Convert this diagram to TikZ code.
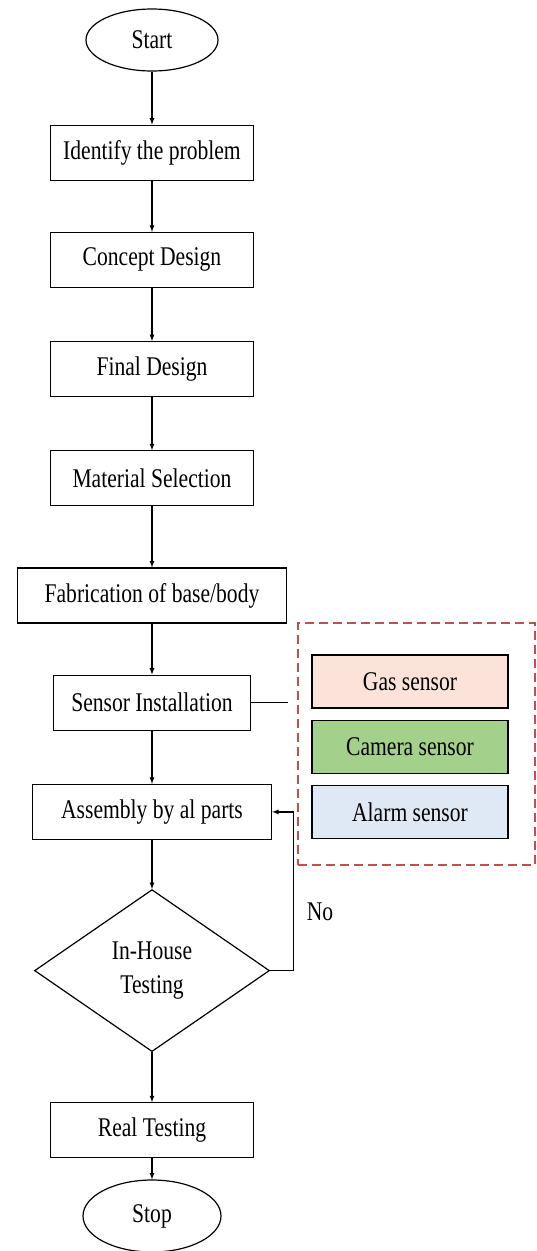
\documentclass[tikz,border=0pt]{standalone}
\usepackage{fontspec}
\setmainfont[FakeStretch=0.8]{Liberation Serif}
\usetikzlibrary{shapes,arrows,positioning}
\definecolor{gasfill}{HTML}{FBE3D9}
\definecolor{camfill}{HTML}{A3D18C}
\definecolor{alarmfill}{HTML}{DFE8F5}
\definecolor{groupred}{HTML}{C0504D}
\tikzset{%
  block/.style     = {draw, rectangle, minimum height = 55pt,
    minimum width = 203pt, inner sep = 2pt},
  term/.style      = {draw, ellipse, minimum width = 132pt,
    minimum height = 62pt}, % Start / Stop
  decision/.style  = {draw, diamond, minimum width = 235pt,
    minimum height = 162pt, inner sep = 0pt, align = center},
  sensorbox/.style = {draw, rectangle, minimum height = 53pt,
    minimum width = 196pt},
  group/.style     = {draw = groupred, dash pattern = on 9pt off 5pt} % sensor group
}

\begin{document}
\begin{tikzpicture}[line width=1.2pt, node distance=53pt,
    font=\fontsize{27pt}{34pt}\selectfont]
        \useasboundingbox (0,0) rectangle (537pt,-1251pt);
        % main flow
        \node [term] (start) at (152pt,-40pt) {Start};
        \node [block, below=53pt of start] (ident) {Identify the problem};
        \node [block, below=51pt of ident] (concept) {Concept Design};
        \node [block, below=of concept] (final) {Final Design};
        \node [block, below=of final] (matsel) {Material Selection};
        \node [block, minimum width=269pt, below=61pt of matsel] (fab) {Fabrication of base/body};
        \node [block, minimum width=197pt, below=51pt of fab] (sensor) {Sensor Installation};
        \node [block, minimum width=239pt, below=of sensor] (assy) {Assembly by al parts};
        \node [decision, below=49pt of assy] (test) {In-House\\Testing};
        \node [block, below=50pt of test] (real) {Real Testing};
        \node [term, minimum width=138pt, minimum height=72pt, below=21pt of real] (stop) {Stop};
        % sensors
        \node [group, minimum width=237pt, minimum height=242pt] (sensors) at (416.5pt,-744pt) {};
        \node [sensorbox, fill=gasfill] (gas) at (410pt,-681.5pt) {Gas sensor};
        \node [sensorbox, fill=camfill, below=11pt of gas] (camera) {Camera sensor};
        \node [sensorbox, fill=alarmfill, below=11pt of camera] (alarm) {Alarm sensor};
        \foreach \a/\b in {start/ident, ident/concept, concept/final, final/matsel,
            matsel/fab, fab/sensor, sensor/assy, assy/test, test/real, real/stop}
            \draw[-latex] (\a) -- (\b);
        \coordinate [right=37pt of sensor.east] (tap);
        \draw (sensor.east) -- (tap);
        % no loop
        \coordinate [right=23pt of test.east] (noturn);
        \draw[-latex] (test.east) -- (noturn) |- (assy.east);
        \node (nolabel) at (320pt,-912pt) {No};
\end{tikzpicture}
\end{document}
